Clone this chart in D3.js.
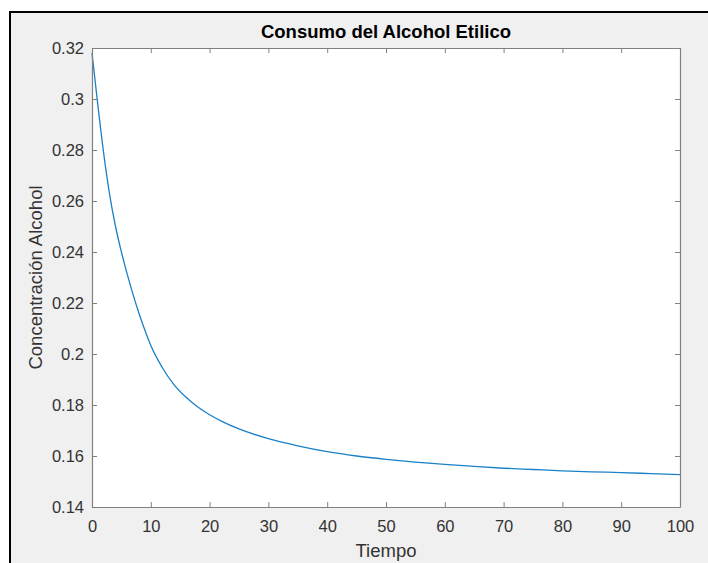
<!DOCTYPE html>
<html>
<head>
<meta charset="utf-8">
<script src="https://cdn.jsdelivr.net/npm/d3@7"></script>
<style>
  body { margin: 0; background: #ffffff; }
  text { font-family: "Liberation Sans", Arial, Helvetica, sans-serif; }
  .tick text { fill: #333333; font-size: 16.5px; }
  .tick line, .domain { stroke: #808080; }
</style>
</head>
<body>
<div id="container"></div>
<script>
// valores
const tiempo = [0, 1, 2, 3, 4, 5, 6, 7, 8, 9, 10, 12, 14, 16, 18, 20, 22, 25,
                30, 35, 40, 45, 50, 55, 60, 65, 70, 75, 80, 85, 90, 95, 100];
const concentracion = [0.318, 0.2975, 0.2785, 0.2625, 0.2500, 0.2400, 0.2312, 0.2232,
                       0.2159, 0.2093, 0.2033, 0.1945, 0.1878, 0.1830, 0.1792, 0.1762,
                       0.1737, 0.1706, 0.1668, 0.1640, 0.1617, 0.1600, 0.1587, 0.1576,
                       0.1567, 0.1559, 0.1552, 0.1547, 0.1542, 0.1538, 0.1535, 0.1531, 0.1527];
const xTicks = [0, 10, 20, 30, 40, 50, 60, 70, 80, 90, 100];
const yTicks = [0.14, 0.16, 0.18, 0.2, 0.22, 0.24, 0.26, 0.28, 0.3, 0.32];

const WIDTH = 708,
      HEIGHT = 563;

const margin = {
    top: 48,
    bottom: 56,
    left: 92,
    right: 28,
};

const width = WIDTH - margin.left - margin.right,
      height = HEIGHT - margin.top - margin.bottom;

const svg = d3.select('#container')
    .append('svg')
    .attr("width", WIDTH)
    .attr("height", HEIGHT);

// marco de la ventana
svg.append("rect")
    .attr("x", 10).attr("y", 12)
    .attr("width", WIDTH - 10).attr("height", HEIGHT - 12)
    .attr("fill", "#f0f0f0");
svg.append("line")
    .attr("x1", 9).attr("x2", WIDTH).attr("y1", 12).attr("y2", 12)
    .attr("stroke", "#000").attr("stroke-width", 2);
svg.append("line")
    .attr("x1", 10).attr("x2", 10).attr("y1", 11).attr("y2", HEIGHT)
    .attr("stroke", "#000").attr("stroke-width", 2);

const container = svg.append('g')
    .attr("transform", `translate(${margin.left}, ${margin.top})`);

container.append("rect")
    .attr("width", width)
    .attr("height", height)
    .attr("fill", "#ffffff");

const datos = tiempo.map((t, i) => ({ t: t, c: concentracion[i] }));

const xScale = d3.scaleLinear()
    .domain([0, 100])
    .range([0, width]);

const yScale = d3.scaleLinear()
    .domain([0.14, 0.32])
    .range([height, 0]);

const line = d3.line()
    .x((d) => xScale(d.t))
    .y((d) => yScale(d.c))
    .curve(d3.curveMonotoneX);

container.append("path")
    .datum(datos)
    .attr("d", line)
    .attr("fill", "none")
    .attr("stroke", "#1a80c8")
    .attr("stroke-width", 1.3);

// ejes (con caja, ticks hacia adentro)
container.append("g")
    .attr("transform", `translate(0, ${height})`)
    .call(d3.axisBottom(xScale).tickValues(xTicks).tickSizeInner(-5)
          .tickSizeOuter(0).tickPadding(13).tickFormat(d3.format("d")));

container.append("g")
    .call(d3.axisLeft(yScale).tickValues(yTicks).tickSizeInner(-5)
          .tickSizeOuter(0).tickPadding(8).tickFormat((d) => +d.toFixed(2)));

container.append("g")
    .call(d3.axisTop(xScale).tickValues(xTicks).tickSizeInner(-5)
          .tickSizeOuter(0).tickFormat(""));

container.append("g")
    .attr("transform", `translate(${width}, 0)`)
    .call(d3.axisRight(yScale).tickValues(yTicks).tickSizeInner(-5)
          .tickSizeOuter(0).tickFormat(""));

container.selectAll(".domain").attr("stroke-width", 1.2);

svg.append("text")
    .attr("x", margin.left + width / 2)
    .attr("y", 38)
    .attr("text-anchor", "middle")
    .attr("font-weight", "bold")
    .attr("font-size", "18.5px")
    .attr("fill", "#000")
    .text("Consumo del Alcohol Etilico");

svg.append("text")
    .attr("x", margin.left + width / 2)
    .attr("y", 557)
    .attr("text-anchor", "middle")
    .attr("font-size", "18.5px")
    .attr("fill", "#333333")
    .text("Tiempo");

svg.append("text")
    .attr("transform", "rotate(-90)")
    .attr("x", -(margin.top + height / 2))
    .attr("y", 42)
    .attr("text-anchor", "middle")
    .attr("font-size", "18.5px")
    .attr("fill", "#333333")
    .text("Concentración Alcohol");
</script>
</body>
</html>
